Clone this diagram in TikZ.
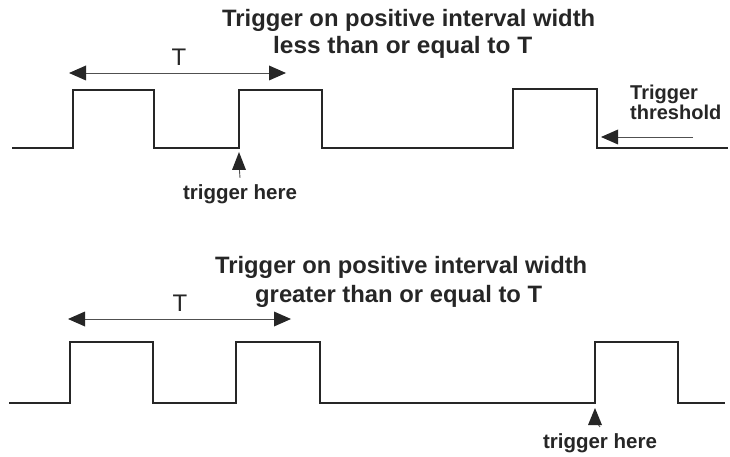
\documentclass[tikz,border=0pt]{standalone}
\usepackage{graphicx}
\usepackage{fontspec}
\setmainfont{Liberation Sans}
\definecolor{ink}{HTML}{262626}
\definecolor{thin}{HTML}{505050}
\newcommand{\fitw}[2]{\resizebox{#1}{\height}{#2}}
\begin{document}
\begin{tikzpicture}[x=1pt,y=-1pt,
  wave/.style={line width=2.9pt, draw=ink, line join=miter},
  shaft/.style={line width=0.9pt, draw=thin},
  head/.style={fill=ink},
  ttl/.style={inner sep=0pt, anchor=base west, text=ink, font=\fontsize{23.7}{26}\selectfont\bfseries},
  lbl/.style={inner sep=0pt, text=ink, font=\fontsize{20.5}{18}\selectfont\bfseries},
  tlab/.style={inner sep=0pt, anchor=base, text=ink, font=\fontsize{24}{26}\selectfont}]
\useasboundingbox (0,0) rectangle (730,457);
\fill[white] (0,0) rectangle (730,457);

% ---------- top panel ----------
\node[ttl] (t1a) at (222,27) {\fitw{373pt}{Trigger on positive interval width}};
\node[ttl] (t1b) at (273,54) {\fitw{259pt}{less than or equal to T}};

\draw[wave] (12,148) -- (73,148) -- (73,90) -- (154,90) -- (154,148) -- (239,148)
  -- (239,90) -- (322,90) -- (322,148) -- (513,148) -- (513,89) -- (597,89)
  -- (597,148) -- (728,148);

\coordinate (ta) at (69,73);
\coordinate (tb) at (286,73);
\draw[shaft] ([xshift=10pt]ta) -- ([xshift=-10pt]tb);
\fill[head] (ta) -- ++(17,-7.5) -- ++(0,15) -- cycle;
\fill[head] (tb) -- ++(-17,-7.5) -- ++(0,15) -- cycle;
\node[tlab] (tT1) at (179,66) {T};

\coordinate (tip1) at (239,152);
\node[lbl, anchor=base] (tr1) at (240,200) {trigger here};
\draw[shaft] ([yshift=7pt]tr1.north) -- ([yshift=-12pt]tip1);
\fill[head] (tip1) -- ++(-7,18) -- ++(14,0) -- cycle;

\node[lbl, anchor=north west, align=left, font=\fontsize{20}{18}\selectfont\bfseries] (thr) at (630,85) {Trigger\\threshold};
\coordinate (thrS) at (693,137);
\coordinate (thrT) at (601,137);
\draw[shaft] (thrS) -- ([xshift=10pt]thrT);
\fill[head] (thrT) -- ++(17,-7.5) -- ++(0,15) -- cycle;

% ---------- bottom panel ----------
\node[ttl] (t2a) at (215,273) {\fitw{372pt}{Trigger on positive interval width}};
\node[ttl] (t2b) at (255,302) {\fitw{287pt}{greater than or equal to T}};

\draw[wave] (9,403) -- (70,403) -- (70,342) -- (153,342) -- (153,403) -- (236,403)
  -- (236,342) -- (320,342) -- (320,403) -- (595,403) -- (595,342) -- (678,342)
  -- (678,403) -- (725,403);

\coordinate (ba) at (68,319);
\coordinate (bb) at (291,319);
\draw[shaft] ([xshift=10pt]ba) -- ([xshift=-10pt]bb);
\fill[head] (ba) -- ++(17,-7.5) -- ++(0,15) -- cycle;
\fill[head] (bb) -- ++(-17,-7.5) -- ++(0,15) -- cycle;
\node[tlab] (tT2) at (180,311) {T};

\coordinate (tip2) at (595,408);
\node[lbl, anchor=base] (tr2) at (600,448) {trigger here};
\draw[shaft] ([yshift=6pt]tr2.north) -- ([yshift=-12pt]tip2);
\fill[head] (tip2) -- ++(-7,17) -- ++(14,0) -- cycle;
\end{tikzpicture}
\end{document}
